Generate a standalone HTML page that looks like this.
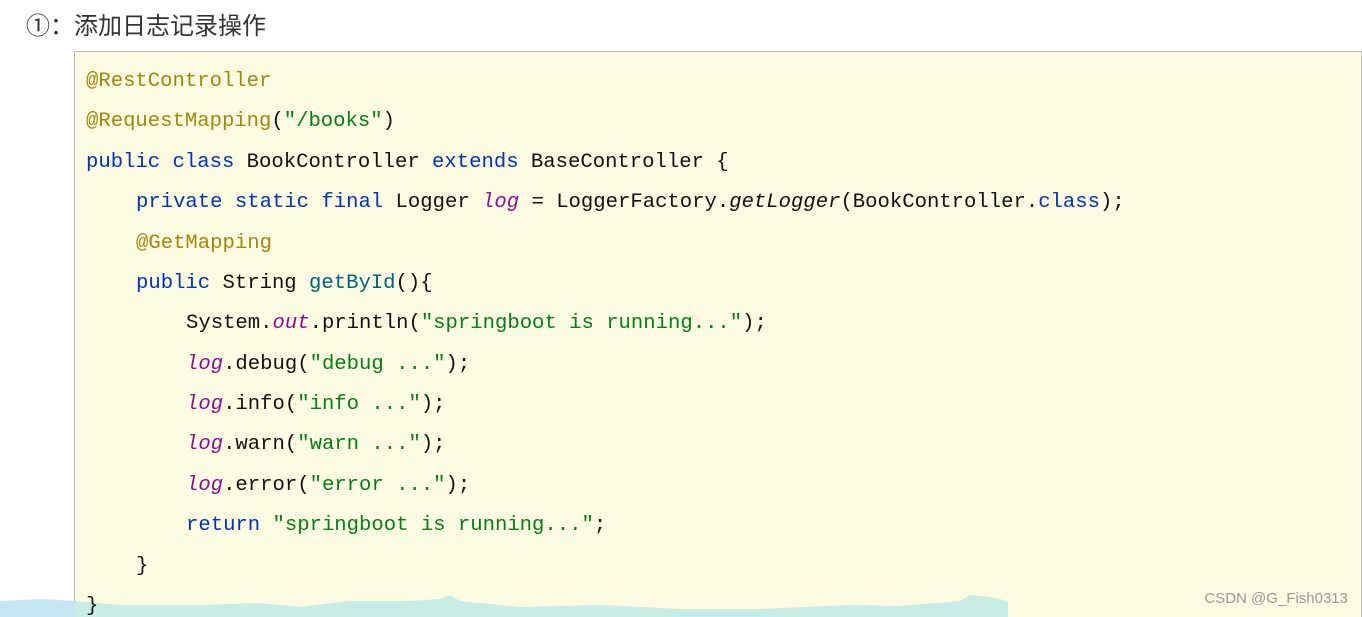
<!DOCTYPE html>
<html><head><meta charset="utf-8"><style>
html,body{margin:0;padding:0;width:1362px;height:617px;overflow:hidden;background:#fff;position:relative}
.title{position:absolute;left:26px;top:9px;font:24px "Liberation Sans","Noto Sans CJK SC",sans-serif;color:#333;line-height:36px}
.box{position:absolute;left:74px;top:51px;width:1286px;height:580px;background:#fdfbe2;border:1px solid #bdbdb0}
.l{position:absolute;white-space:pre;font:20.6px "Liberation Mono",monospace;color:#111;line-height:40px}
.a{color:#9e880d}.k{color:#0033b3}.s{color:#067d17}.p{color:#871094;font-style:italic}.m{color:#00627a}.i{font-style:italic}
.wm{position:absolute;right:14px;top:590px;font:15px "Liberation Sans",sans-serif;color:#9a9a9a}
</style></head><body>
<div class="title">①：添加日志记录操作</div>
<div class="box"></div>
<svg style="position:absolute;left:0;top:595px" width="1010" height="22"><path d="M0 6 L40 4 L75 6 L75 22 L0 22Z" fill="#c4e6f2"/><path d="M75 6 L120 10 L200 10 L260 8 L300 12 L350 6 L410 6 L440 4 L450 0 L460 6 L520 12 L600 10 L680 14 L760 14 L850 10 L900 11 L960 6 L970 0 L990 2 L1008 6 L1008 22 L75 22Z" fill="#c8ece6"/></svg>
<div class="l" style="left:86px;top:62px"><span class="a">@RestController</span></div>
<div class="l" style="left:86px;top:102px"><span class="a">@RequestMapping</span>(<span class="s">"/books"</span>)</div>
<div class="l" style="left:86px;top:143px"><span class="k">public class</span> BookController <span class="k">extends</span> BaseController {</div>
<div class="l" style="left:136px;top:183px"><span class="k">private static final</span> Logger <span class="p">log</span> = LoggerFactory.<span class="i">getLogger</span>(BookController.<span class="k">class</span>);</div>
<div class="l" style="left:136px;top:224px"><span class="a">@GetMapping</span></div>
<div class="l" style="left:136px;top:264px"><span class="k">public</span> String <span class="m">getById</span>(){</div>
<div class="l" style="left:186px;top:304px">System.<span class="p">out</span>.println(<span class="s">"springboot is running..."</span>);</div>
<div class="l" style="left:186px;top:345px"><span class="p">log</span>.debug(<span class="s">"debug ..."</span>);</div>
<div class="l" style="left:186px;top:385px"><span class="p">log</span>.info(<span class="s">"info ..."</span>);</div>
<div class="l" style="left:186px;top:425px"><span class="p">log</span>.warn(<span class="s">"warn ..."</span>);</div>
<div class="l" style="left:186px;top:466px"><span class="p">log</span>.error(<span class="s">"error ..."</span>);</div>
<div class="l" style="left:186px;top:506px"><span class="k">return</span> <span class="s">"springboot is running..."</span>;</div>
<div class="l" style="left:136px;top:547px">}</div>
<div class="l" style="left:86px;top:587px">}</div>
<div class="wm">CSDN @G_Fish0313</div>
</body></html>
